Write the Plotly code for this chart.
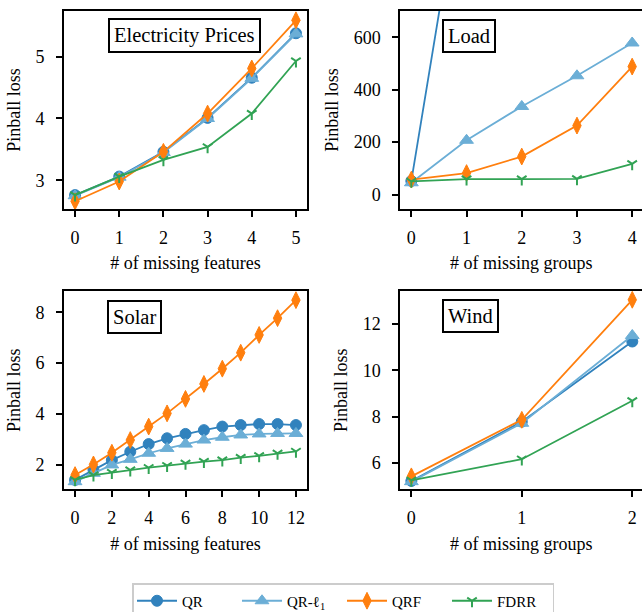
import plotly.graph_objects as go

# ---------------- data ----------------
methods = ["QR", "QR-ℓ<sub>1</sub>", "QRF", "FDRR"]
colors = ["#3182bd", "#6baed6", "#ff7f0e", "#31a354"]
symbols = ["circle", "triangle-up", "diamond-tall", "y-down"]
msizes = [11, 12, 12, 8]

elec_x = [0, 1, 2, 3, 4, 5]
elec_qr = [2.76, 3.06, 3.46, 4.01, 4.66, 5.38]
elec_qrl1 = [2.75, 3.05, 3.45, 4.00, 4.65, 5.37]
elec_qrf = [2.66, 2.98, 3.46, 4.08, 4.81, 5.59]
elec_fdrr = [2.76, 3.06, 3.33, 3.54, 4.08, 4.93]

load_x = [0, 1, 2, 3, 4]
load_qr = [52, 1330, 2450, 3600, 4700]
load_qrl1 = [45, 207, 336, 453, 578]
load_qrf = [57, 82, 145, 263, 488]
load_fdrr = [50, 59, 59, 60, 117]

solar_x = [0, 1, 2, 3, 4, 5, 6, 7, 8, 9, 10, 11, 12]
solar_qr = [1.40, 1.80, 2.18, 2.51, 2.81, 3.04, 3.21, 3.36, 3.50, 3.56, 3.60, 3.60, 3.56]
solar_qrl1 = [1.33, 1.66, 1.99, 2.21, 2.45, 2.64, 2.81, 2.97, 3.08, 3.17, 3.21, 3.23, 3.23]
solar_qrf = [1.59, 2.01, 2.47, 2.97, 3.50, 4.02, 4.59, 5.18, 5.78, 6.41, 7.11, 7.77, 8.48]
solar_fdrr = [1.40, 1.59, 1.69, 1.79, 1.88, 1.96, 2.05, 2.12, 2.18, 2.28, 2.35, 2.45, 2.52]

wind_x = [0, 1, 2]
wind_qr = [5.22, 7.78, 11.24]
wind_qrl1 = [5.19, 7.71, 11.50]
wind_qrf = [5.42, 7.86, 13.04]
wind_fdrr = [5.25, 6.16, 8.68]

panels = [
    ("Electricity Prices", elec_x, [elec_qr, elec_qrl1, elec_qrf, elec_fdrr], "# of missing features"),
    ("Load", load_x, [load_qr, load_qrl1, load_qrf, load_fdrr], "# of missing groups"),
    ("Solar", solar_x, [solar_qr, solar_qrl1, solar_qrf, solar_fdrr], "# of missing features"),
    ("Wind", wind_x, [wind_qr, wind_qrl1, wind_qrf, wind_fdrr], "# of missing groups"),
]

FONT = "Liberation Serif, Times New Roman, DejaVu Serif"
W, H = 642, 612

# layout geometry (pixels)
col_x = [(64, 307), (400.3, 642)]
row_y = [(11, 209), (291, 489.3)]

xranges = [[-0.25, 5.25], [-0.2, 4.178], [-0.6, 12.6], [-0.1, 2.088]]
yranges = [[2.535, 5.74], [-55, 700], [1.03, 8.84], [4.86, 13.42]]
xticks = [[0, 1, 2, 3, 4, 5], [0, 1, 2, 3, 4], [0, 2, 4, 6, 8, 10, 12], [0, 1, 2]]
yticks = [[3, 4, 5], [0, 200, 400, 600], [2, 4, 6, 8], [6, 8, 10, 12]]
title_pos = [(0.494, 0.874), (0.285, 0.876), (0.292, 0.871), (0.291, 0.873)]

fig = go.Figure()
layout = {}
annotations = []

for i, (title, xs, series, xlabel) in enumerate(panels):
    r, c = divmod(i, 2)
    n = "" if i == 0 else str(i + 1)
    xa, ya = "x" + n, "y" + n
    for k, ys in enumerate(series):
        fig.add_trace(go.Scatter(
            x=xs, y=ys, xaxis=xa, yaxis=ya, mode="lines+markers",
            name=methods[k], legendgroup=methods[k], showlegend=(i == 0),
            line=dict(color=colors[k], width=1.8),
            marker=dict(symbol=symbols[k], size=msizes[k], color=colors[k],
                        line=dict(color=colors[k], width=2 if symbols[k] == "y-down" else 1)),
        ))
    x0, x1 = col_x[c]
    y0, y1 = row_y[r]
    mirror_y = (c == 0)
    layout["xaxis" + n] = dict(
        domain=[x0 / W, x1 / W], anchor=ya, range=xranges[i],
        tickmode="array", tickvals=xticks[i],
        showline=True, linecolor="black", linewidth=2, mirror=True,
        ticks="outside", ticklen=6, tickwidth=1.5, tickcolor="black",
        showgrid=False, zeroline=False, ticklabelstandoff=5,
        tickfont=dict(family=FONT, size=18, color="black"),
        title=dict(text=xlabel, font=dict(family=FONT, size=18, color="black"), standoff=10),
    )
    layout["yaxis" + n] = dict(
        domain=[1 - y1 / H, 1 - y0 / H], anchor=xa, range=yranges[i],
        tickmode="array", tickvals=yticks[i],
        showline=True, linecolor="black", linewidth=2, mirror=mirror_y,
        ticks="outside", ticklen=6, tickwidth=1.5, tickcolor="black",
        showgrid=False, zeroline=False, ticklabelstandoff=8,
        tickfont=dict(family=FONT, size=18, color="black"),
        title=dict(text="Pinball loss", font=dict(family=FONT, size=18, color="black"), standoff=10),
    )
    tx, ty = title_pos[i]
    annotations.append(dict(
        text=title, xref=xa + " domain", yref=ya + " domain", x=tx, y=ty,
        xanchor="center", yanchor="middle", showarrow=False,
        font=dict(family=FONT, size=20.5, color="black"),
        bordercolor="black", borderwidth=2, borderpad=4, bgcolor="white",
    ))

fig.update_layout(
    width=W, height=H,
    margin=dict(l=0, r=0, t=0, b=0, autoexpand=False),
    paper_bgcolor="white", plot_bgcolor="white",
    font=dict(family=FONT, color="black"),
    annotations=annotations,
    legend=dict(
        orientation="h", x=132 / W, y=1 - 583 / H, xanchor="left", yanchor="top",
        font=dict(family=FONT, size=15, color="black"),
        bordercolor="#cccccc", borderwidth=1.5, bgcolor="white",
        entrywidth=50, itemwidth=40,
    ),
    **layout,
)

fig.write_html(
    "out.html",
    config={"displayModeBar": False},
    post_script="document.body.style.margin='0';document.body.style.overflow='hidden';",
)
